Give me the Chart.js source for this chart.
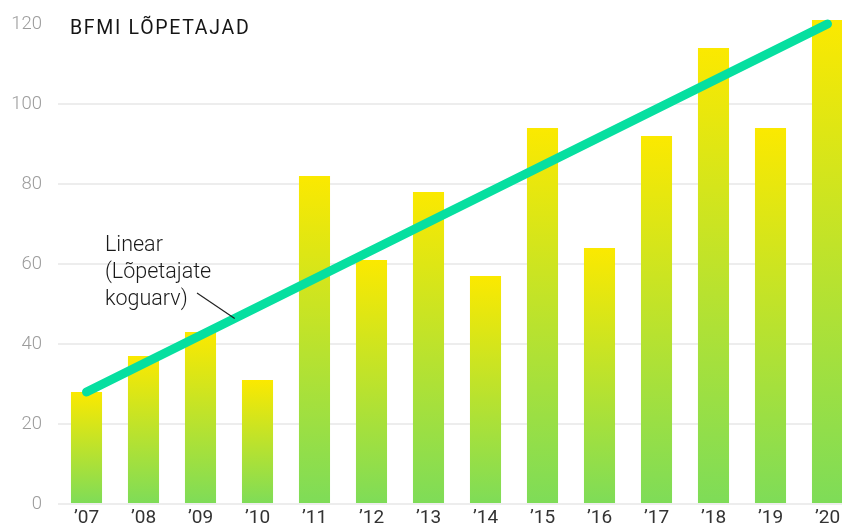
<!DOCTYPE html>
<html>
<head>
<meta charset="utf-8">
<script src="https://cdn.jsdelivr.net/npm/chart.js@4"></script>
<style>
  html, body { margin: 0; padding: 0; background: #fff; overflow: hidden; }
  #wrap { position: relative; width: 842px; height: 528px; overflow: hidden; }
  #chart { position: absolute; left: 0; top: 0; }
  .title {
    position: absolute; left: 70px; top: 18px;
    font: 400 19.5px/20px Roboto, sans-serif; letter-spacing: 1.7px; color: #151515;
  }
  .note {
    position: absolute; left: 105px; top: 230px;
    font: 300 21.5px/27px Roboto, sans-serif; color: #1a1a1a;
  }
</style>
</head>
<body>
<div id="wrap">
  <canvas id="chart" width="856" height="528"></canvas>
  <div class="title">BFMI LÕPETAJAD</div>
  <div class="note">Linear<br>(Lõpetajate<br>koguarv)</div>
</div>
<script>
const years = ['’07', '’08', '’09', '’10', '’11', '’12', '’13', '’14', '’15', '’16', '’17', '’18', '’19', '’20']
const graduates = [28, 37, 43, 31, 82, 61, 78, 57, 94, 64, 92, 114, 94, 121]
// trend line read at its two ends, straight line between them
const trend = [28, null, null, null, null, null, null, null, null, null, null, null, null, 120]
const yTicks = [0, 20, 40, 60, 80, 100, 120]

const YELLOW = '#FBE900'
const GREEN = '#7EDC58'

function barGradient(context) {
  const chart = context.chart
  if (!chart.chartArea) return YELLOW
  const y = chart.scales.y
  const top = y.getPixelForValue(context.raw)
  const bottom = y.getPixelForValue(0)
  const g = chart.ctx.createLinearGradient(0, top, 0, bottom)
  g.addColorStop(0, YELLOW)
  g.addColorStop(1, GREEN)
  return g
}

// small leader line from the note to the trend line
const leader = {
  id: 'leader',
  afterDatasetsDraw(chart) {
    const x = chart.scales.x
    const y = chart.scales.y
    const t = 2.6
    const first = trend[0]
    const last = trend[trend.length - 1]
    const v = first + (last - first) * t / (trend.length - 1)
    const step = x.getPixelForValue(1) - x.getPixelForValue(0)
    const ex = x.getPixelForValue(0) + t * step
    const ey = y.getPixelForValue(v)
    const ctx = chart.ctx
    ctx.save()
    ctx.strokeStyle = '#222'
    ctx.lineWidth = 1.2
    ctx.beginPath()
    ctx.moveTo(197, 293)
    ctx.lineTo(ex, ey)
    ctx.stroke()
    ctx.restore()
  }
}

new Chart(document.getElementById('chart'), {
  data: {
    labels: years,
    datasets: [
      {
        type: 'line',
        data: trend,
        spanGaps: true,
        borderColor: '#06DFA0',
        borderWidth: 9,
        borderCapStyle: 'round',
        pointRadius: 0,
        clip: false,
        order: 0
      },
      {
        type: 'bar',
        data: graduates,
        backgroundColor: barGradient,
        barPercentage: 0.545,
        categoryPercentage: 1,
        clip: false,
        order: 1
      }
    ]
  },
  plugins: [leader],
  options: {
    responsive: false,
    animation: false,
    devicePixelRatio: 1,
    layout: { padding: { top: 24, left: 0, right: 0, bottom: 0 } },
    plugins: { legend: { display: false }, tooltip: { enabled: false } },
    scales: {
      x: {
        grid: { display: false, drawTicks: false },
        border: { display: false },
        ticks: { color: '#333', font: { family: 'Roboto', size: 19 }, padding: 3, maxRotation: 0 },
        afterFit: s => { s.height = 24; s.paddingLeft = 0; s.paddingRight = 0 }
      },
      y: {
        min: 0,
        max: 120,
        afterBuildTicks: s => { s.ticks = yTicks.map(v => ({ value: v })) },
        grid: {
          color: c => c.tick && c.tick.value === 120 ? 'rgba(0,0,0,0)' : '#ededed',
          lineWidth: 2,
          drawTicks: false
        },
        border: { display: false },
        ticks: { color: '#9c9c9c', font: { family: 'Roboto', size: 18.5, weight: 300 }, padding: 16 },
        afterFit: s => { s.width = 58; s.paddingTop = 0; s.paddingBottom = 0 }
      }
    }
  }
})
</script>
</body>
</html>
